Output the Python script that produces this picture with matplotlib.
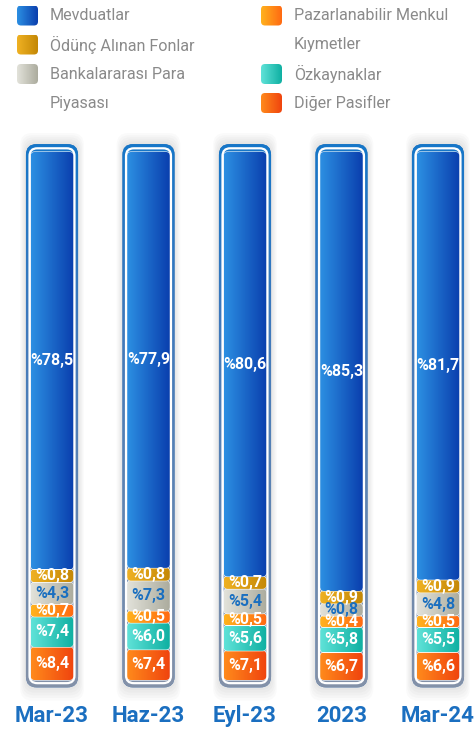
import numpy as np
import matplotlib.pyplot as plt
from matplotlib.patches import FancyBboxPatch
from matplotlib.colors import LinearSegmentedColormap

plt.rcParams['font.family'] = ['Roboto', 'DejaVu Sans']

categories = ['Mar-23', 'Haz-23', 'Eyl-23', '2023', 'Mar-24']
# stacked bottom -> top
diger = [8.4, 7.4, 7.1, 6.7, 6.6]
ozkaynak = [7.4, 6.0, 5.6, 5.8, 5.5]
menkul = [0.7, 0.5, 0.5, 0.4, 0.5]
bankalar = [4.3, 7.3, 5.4, 0.8, 4.8]
odunc = [0.8, 0.8, 0.7, 0.9, 0.9]
mevduat = [78.5, 77.9, 80.6, 85.3, 81.7]

series = [diger, ozkaynak, menkul, bankalar, odunc, mevduat]
names = [['Diğer Pasifler'], ['Özkaynaklar'], ['Pazarlanabilir Menkul', 'Kıymetler'],
         ['Bankalararası Para', 'Piyasası'], ['Ödünç Alınan Fonlar'], ['Mevduatlar']]
grads = [('#ff8a1c', '#f0440e'), ('#5fe2d8', '#0fb0a2'), ('#ffb21e', '#ff6a12'),
         ('#e2e2da', '#acac9e'), ('#efb123', '#c48806'), ('#2c8fe2', '#0a3fae')]
label_cols = ['white', 'white', 'white', '#1a6fc0', 'white', 'white']

W, H = 476, 729
PX_Y = 5.28  # pixels per percent
fig = plt.figure(figsize=(W / 100, H / 100), dpi=100)
fig.patch.set_facecolor('white')
ax = fig.add_axes([0, (49 - 4 * PX_Y) / H, 1, 108 * PX_Y / H])
ax.set_xlim(-0.539, 4.394)
ax.set_ylim(-4, 104)
ax.axis('off')
asp = (W / 4.933) / PX_Y  # px per x unit / px per y unit


def gradient_fill(axis, patch, colors, extent, vertical=False):
    cmap = LinearSegmentedColormap.from_list('g', list(colors))
    g = np.linspace(0, 1, 64)
    img = np.tile(g.reshape(-1, 1), (1, 4)) if vertical else np.tile(g.reshape(1, -1), (4, 1))
    im = axis.imshow(img, cmap=cmap, extent=extent, aspect='auto',
                     origin='upper', interpolation='bilinear', zorder=patch.get_zorder())
    im.set_clip_path(patch)


x = np.arange(len(categories))
seg_w = 0.44
# the small shares are drawn on a compressed scale (like the original infographic),
# then each column is scaled to fill the frame
vals = np.array(series, dtype=float)
shown = vals.copy()
shown[:-1] = 2.0 + 0.5 * vals[:-1]
shown = shown / shown.sum(axis=0) * 100

# frames
for xi in x:
    for k in range(6):
        sh = FancyBboxPatch((xi - 0.27 - 0.012 * k, -1.4 - 0.5 * k), 0.54 + 0.024 * k, 103.0 + 0.9 * k,
                            boxstyle='round,pad=0,rounding_size=0.12', mutation_aspect=asp,
                            fc='#404040', ec='none', alpha=0.022, zorder=1)
        ax.add_patch(sh)
    frame = FancyBboxPatch((xi - 0.27, -1.4), 0.54, 102.9,
                           boxstyle='round,pad=0,rounding_size=0.11', mutation_aspect=asp,
                           fc='#4b7cb6', ec='none', zorder=2)
    ax.add_patch(frame)
    gradient_fill(ax, frame, ('#1676c8', '#3f79bc', '#5f84b2', '#8391a8'),
                  (xi - 0.28, xi + 0.28, -1.5, 101.6), vertical=True)
    inner = FancyBboxPatch((xi - 0.233, -0.6), 0.466, 101.3,
                           boxstyle='round,pad=0,rounding_size=0.08', mutation_aspect=asp,
                           fc='none', ec='white', lw=1.6, zorder=3)
    ax.add_patch(inner)

bottom = np.zeros(len(categories))
for i, h in enumerate(shown):
    bars = ax.bar(x, h, width=seg_w, bottom=bottom, color='none', zorder=4)
    for j, r in enumerate(bars.patches):
        x0, y0 = r.get_x(), r.get_y()
        w, hh = r.get_width(), r.get_height()
        p = FancyBboxPatch((x0, y0), w, hh, boxstyle='round,pad=0,rounding_size=0.04',
                           mutation_aspect=asp, fc='none', ec='white', lw=0.8, zorder=5)
        ax.add_patch(p)
        gradient_fill(ax, p, grads[i], (x0, x0 + w, y0, y0 + hh))
        txt = '%' + f'{series[i][j]:.1f}'.replace('.', ',')
        ax.text(x0 + w / 2, y0 + hh / 2, txt, ha='center', va='center', color=label_cols[i],
                fontsize=11.5, fontweight='bold', zorder=6)
    bottom += h

for xi, c in zip(x, categories):
    ax.text(xi, -36 / PX_Y, c, ha='center', va='center',
            color='#1b6fc0', fontsize=16, fontweight='bold')

# legend in pixel coordinates
lg = fig.add_axes([0, 0, 1, 1])
lg.set_xlim(0, W)
lg.set_ylim(H, 0)
lg.axis('off')
lg.patch.set_alpha(0)
row_y = [15.5, 44.5, 74, 103]
legend_items = [(17, 0, 5), (17, 1, 4), (17, 2, 3), (261, 0, 2), (261, 2, 1), (261, 3, 0)]
for sx, row, idx in legend_items:
    sy = row_y[row]
    sq = FancyBboxPatch((sx, sy - 10), 21, 20, boxstyle='round,pad=0,rounding_size=4',
                        fc='none', ec='none')
    lg.add_patch(sq)
    gradient_fill(lg, sq, grads[idx], (sx, sx + 21, sy + 10, sy - 10))
    for k, line in enumerate(names[idx]):
        lg.text(sx + 33, row_y[row + k], line, ha='left', va='center', color='#8a8a8a',
                fontsize=11.6)

fig.savefig('out.png', dpi=100)
